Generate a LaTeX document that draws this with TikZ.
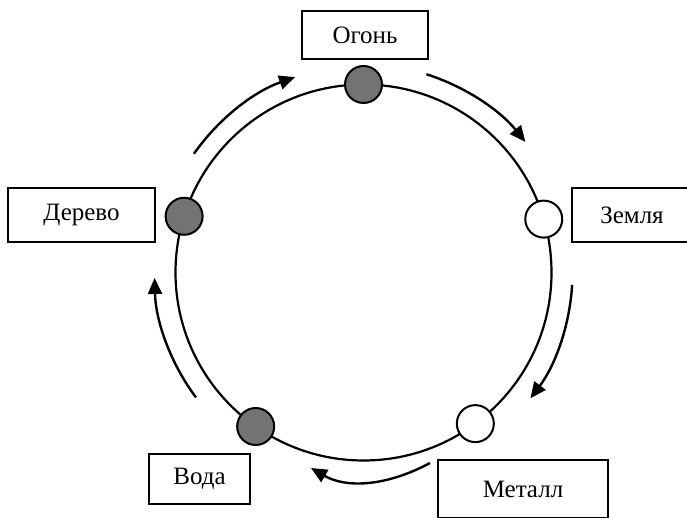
\documentclass[tikz,border=0pt]{standalone}
\usepackage{fontspec}
\setmainfont{Liberation Serif}
\usetikzlibrary{arrows.meta,calc}
\begin{document}
\begin{tikzpicture}[x=1pt,y=1pt,
  lbl/.style={draw=black, line width=1.9pt, fill=white, inner sep=0pt, font=\fontsize{25}{30}\selectfont},
  elem/.style={circle, draw=black, line width=2pt, minimum size=37pt, inner sep=0pt},
  yin/.style={elem, fill=black!55},
  yang/.style={elem, fill=white},
  ring/.style={line width=2.2pt},
  cyc/.style={line width=2.4pt, -{Triangle[length=16pt,width=14pt]}}]
\useasboundingbox (0,0) rectangle (687,517);
\coordinate (C) at (363.5,244.5);

% main circle
\draw[ring] (C) circle[radius=188];

% elements on the circle
\node[yin]  (fire)  at ([shift={(90:188)}]C) {};
\node[yang] (earth) at ([shift={(16.5:188)}]C) {};
\node[yang] (metal) at ([shift={(-53.5:188)}]C) {};
\node[yin]  (water) at ([shift={(-125:188)}]C) {};
\node[yin]  (wood)  at ([shift={(162.6:188)}]C) {};

% labels
\node[lbl, minimum width=126pt, minimum height=48pt] (lfire)  at (365,482) {Огонь};
\node[lbl, minimum width=147pt, minimum height=54pt] (lwood)  at (81.5,302) {Дерево};
\node[lbl, minimum width=120pt, minimum height=54pt] (learth) at (632,302) {Земля};
\node[lbl, minimum width=101pt, minimum height=50pt] (lwater) at (199.5,38) {Вода};
\node[lbl, minimum width=170pt, minimum height=58pt] (lmetal) at (523,28) {Металл};

% cycle arrows
\coordinate (a1) at ([shift={(145:207)}]C);
\draw[cyc] (a1) arc[start angle=145, end angle=109.3, radius=207];
\coordinate (a2) at ([shift={(72.4:208)}]C);
\draw[cyc] (a2) arc[start angle=72.4, end angle=38.9, radius=208];
\coordinate (a3) at ([shift={(-3.4:209)}]C);
\draw[cyc] (a3) arc[start angle=-3.4, end angle=-37, radius=209];
\coordinate (a4s) at (430,54);
\coordinate (a4c1) at (385.7,30.3);
\coordinate (a4c2) at (346,28.7);
\coordinate (a4e) at (311,49);
\draw[cyc] (a4s) .. controls (a4c1) and (a4c2) .. (a4e);
\coordinate (a5) at ([shift={(216.7:209)}]C);
\draw[cyc] (a5) arc[start angle=216.7, end angle=181.5, radius=209];
\end{tikzpicture}
\end{document}
